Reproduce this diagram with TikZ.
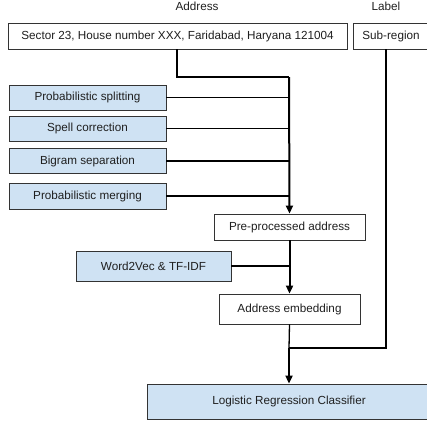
\documentclass[tikz,border=0pt]{standalone}
\usepackage{fontspec}
\setmainfont{Liberation Sans}
\usetikzlibrary{arrows.meta}
\definecolor{boxblue}{HTML}{CFE2F3}
\definecolor{boxedge}{HTML}{333333}
\definecolor{txt}{HTML}{1F1F1F}
\begin{document}
\begin{tikzpicture}[x=1pt,y=-1pt,
  box/.style={draw=boxedge, line width=0.9pt, inner sep=0pt, font=\fontsize{11.7}{14}\selectfont, text=txt},
  bluebox/.style={box, fill=boxblue},
  whitebox/.style={box, fill=white},
  title/.style={inner sep=0pt, font=\fontsize{11.7}{14}\selectfont, text=txt},
  conn/.style={line width=1.3pt, draw=black},
  mainconn/.style={line width=2pt, draw=black},
  arr/.style={-{Triangle[width=7pt,length=8pt]}}
]
\useasboundingbox (0,0) rectangle (427,424);
\clip (0,0) rectangle (427,424);

% titles
\node[title] (taddr) at (197,6) {Address};
\node[title] (tlab) at (386,6) {Label};

% boxes
\node[whitebox, minimum width=339pt, minimum height=26pt] (addr) at (177.5,36) {Sector 23, House number XXX, Faridabad, Haryana 121004};
\node[whitebox, minimum width=76pt, minimum height=26pt] (sub) at (391,36) {Sub-region};

\node[bluebox, minimum width=157pt, minimum height=25pt] (ps) at (87.5,97.5) {Probabilistic splitting};
\node[bluebox, minimum width=157pt, minimum height=25pt] (sc) at (87.5,128.5) {Spell correction};
\node[bluebox, minimum width=157pt, minimum height=25pt] (bs) at (87.5,161) {Bigram separation};
\node[bluebox, minimum width=157pt, minimum height=26pt] (pm) at (87.5,196) {Probabilistic merging};

\node[whitebox, minimum width=151pt, minimum height=26pt] (pre) at (289.5,227) {Pre-processed address};
\node[bluebox, minimum width=155pt, minimum height=30pt] (w2v) at (153.5,266) {Word2Vec \& TF-IDF};
\node[whitebox, minimum width=141pt, minimum height=30pt] (emb) at (289.5,309) {Address embedding};
\node[bluebox, minimum width=284pt, minimum height=35pt] (lrc) at (289,401.5) {Logistic Regression Classifier};

% junction coordinates
\coordinate (a0) at (177,49);
\coordinate (a1) at (177,77);
\coordinate (j0) at (289,77);
\coordinate (j1) at (289,97.5);
\coordinate (j2) at (289,128.5);
\coordinate (j3) at (289,161);
\coordinate (j4) at (289,196);
\coordinate (jw) at (289,266);
\coordinate (s0) at (386,49);
\coordinate (js) at (386,348);
\coordinate (jm) at (289,348);

% connectors
\draw[conn] (a0) -- (a1) -- (j0);
\draw[mainconn, arr] (j0) -- (pre.north);
\draw[conn] (ps.east) -- (j1);
\draw[conn] (sc.east) -- (j2);
\draw[conn] (bs.east) -- (j3);
\draw[conn] (pm.east) -- (j4);

\draw[mainconn, arr] (pre.south) -- (emb.north);
\draw[conn] (w2v.east) -- (jw);

\draw[conn] (s0) -- (js) -- (jm);
\draw[conn] (emb.south) -- (jm);
\draw[mainconn, arr] (jm) -- (lrc.north);
\end{tikzpicture}
\end{document}
